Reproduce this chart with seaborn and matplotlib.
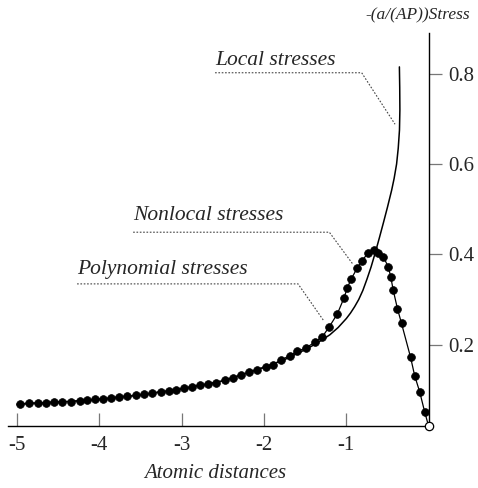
import numpy as np
import pandas as pd
import matplotlib
matplotlib.use("Agg")
import matplotlib.pyplot as plt
import seaborn as sns

# ---------------- data ----------------
nonlocal_x = [-4.96, -4.85, -4.75, -4.65, -4.55, -4.45, -4.34, -4.24, -4.15, -4.05,
              -3.96, -3.86, -3.76, -3.66, -3.56, -3.46, -3.36, -3.25, -3.16, -3.07,
              -2.97, -2.88, -2.78, -2.68, -2.58, -2.48, -2.38, -2.28, -2.18, -2.08,
              -1.98, -1.89, -1.79, -1.69, -1.60, -1.49, -1.38, -1.29, -1.21, -1.11,
              -1.03, -0.99, -0.94, -0.87, -0.81, -0.74, -0.66, -0.61, -0.55, -0.49,
              -0.46, -0.43, -0.38, -0.33, -0.22, -0.17, -0.11, -0.05]
nonlocal_y = [0.069, 0.071, 0.071, 0.072, 0.073, 0.074, 0.074, 0.076, 0.077, 0.079,
              0.080, 0.082, 0.085, 0.086, 0.088, 0.090, 0.093, 0.096, 0.097, 0.100,
              0.104, 0.107, 0.110, 0.113, 0.116, 0.121, 0.126, 0.132, 0.139, 0.145,
              0.151, 0.156, 0.166, 0.176, 0.185, 0.193, 0.206, 0.218, 0.239, 0.268,
              0.303, 0.325, 0.346, 0.369, 0.386, 0.402, 0.409, 0.403, 0.394, 0.372,
              0.349, 0.320, 0.280, 0.247, 0.172, 0.131, 0.096, 0.052]
origin_x = [0.0]
origin_y = [0.019]

local_x = [-5.0, -4.5, -4.0, -3.5, -3.0, -2.5, -2.0, -1.75, -1.5, -1.4, -1.3, -1.2,
           -1.1, -1.0, -0.95, -0.9, -0.85, -0.8, -0.75, -0.7, -0.65, -0.6, -0.55,
           -0.5, -0.45, -0.42, -0.39, -0.37, -0.355, -0.35, -0.352, -0.356]
local_y = [0.068, 0.073, 0.079, 0.089, 0.102, 0.120, 0.150, 0.167, 0.189, 0.199, 0.210, 0.222,
           0.238, 0.258, 0.270, 0.284, 0.300, 0.320, 0.345, 0.372, 0.403, 0.436, 0.470,
           0.505, 0.542, 0.568, 0.600, 0.635, 0.675, 0.720, 0.770, 0.815]

x_ticks = [-5, -4, -3, -2, -1]
x_ticklabels = ["-5", "-4", "-3", "-2", "-1"]
y_ticks = [0.2, 0.4, 0.6, 0.8]
y_ticklabels = ["0.2", "0.4", "0.6", "0.8"]

labels = ["Local stresses", "Nonlocal stresses", "Polynomial stresses"]
label_xy = [(-2.595, 0.819), (-3.59, 0.475), (-4.271, 0.357)]
leader_paths = [
    ([-2.595, -0.814, -0.409], [0.802, 0.802, 0.688]),
    ([-3.59, -1.207, -0.916], [0.449, 0.449, 0.377]),
    ([-4.271, -1.587, -1.271], [0.3346, 0.3346, 0.252]),
]

# ---------------- style ----------------
sns.set_style("white")
plt.rcParams["font.family"] = ["Liberation Serif", "DejaVu Serif"]
plt.rcParams["axes.unicode_minus"] = False

fig = plt.figure(figsize=(4.78, 4.88), dpi=100)
ax = fig.add_axes([8 / 478, 62 / 488, (428.7 - 8) / 478, (426 - 33) / 488])

df_nl = pd.DataFrame({"x": nonlocal_x, "y": nonlocal_y})
df_loc = pd.DataFrame({"x": local_x, "y": local_y})

# local stresses curve
sns.lineplot(data=df_loc, x="x", y="y", sort=False, color="black", lw=1.1, ax=ax,
             estimator=None, clip_on=False)
# nonlocal / polynomial (dots with connecting line)
sns.lineplot(data=df_nl, x="x", y="y", sort=False, color="black", lw=0.9, ax=ax,
             estimator=None, marker="o", markersize=5.6, markeredgecolor="black",
             markerfacecolor="black", markeredgewidth=0.5)
# segment to origin
sns.lineplot(x=[nonlocal_x[-1], origin_x[0]], y=[nonlocal_y[-1], origin_y[0]],
             color="black", lw=0.9, ax=ax, estimator=None, clip_on=False)
ax.plot(origin_x, origin_y, "o", ms=6, mfc="white", mec="black", mew=0.9,
        clip_on=False, zorder=5)

# annotations
for (lx, ly), lab, (px, py) in zip(label_xy, labels, leader_paths):
    ax.text(lx, ly, lab, fontsize=15.5, style="italic", ha="left", va="baseline")
    ax.plot(px, py, color="#444444", lw=0.8, ls=(0, (1.5, 1.5)))

ax.set_xlim(-5.11, 0)
ax.set_ylim(0.02, 0.89)

for s in ["left", "top"]:
    ax.spines[s].set_visible(False)
for s in ["right", "bottom"]:
    ax.spines[s].set_visible(True)
    ax.spines[s].set_color("black")
    ax.spines[s].set_linewidth(1.0)

ax.set_xticks(x_ticks)
ax.set_xticklabels(x_ticklabels)
ax.set_yticks(y_ticks)
ax.set_yticklabels(y_ticklabels)
ax.yaxis.tick_right()
ax.tick_params(axis="x", direction="in", length=9.5, width=0.9, color="#777777",
               labelsize=15, pad=7, bottom=True)
ax.tick_params(axis="y", direction="out", length=9, width=0.9, color="#777777",
               labelsize=15, pad=5, right=True, left=False)
ax.set_xlabel("")
ax.set_ylabel("")

fig.text(215 / 478, 1 - 473 / 488, "Atomic distances", fontsize=15, style="italic",
         ha="center", va="center")
fig.text(470 / 478, 1 - 15 / 488, "-(a/(AP))Stress", fontsize=12.5, style="italic",
         ha="right", va="center")

fig.savefig("out.png", dpi=100)
